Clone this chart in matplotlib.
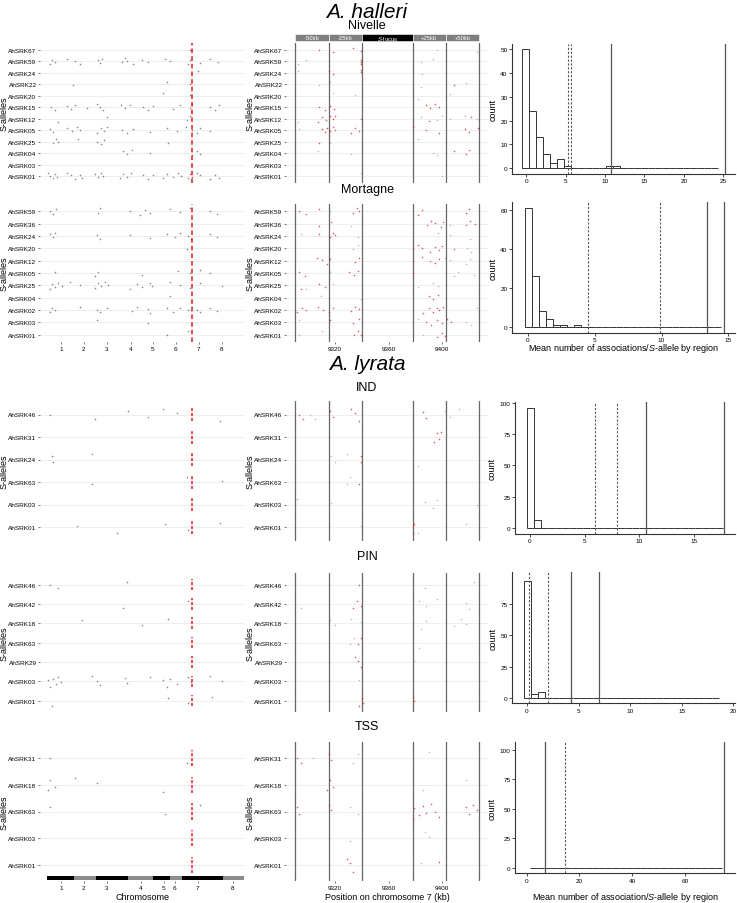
import matplotlib
matplotlib.use('Agg')
import matplotlib.pyplot as plt
from matplotlib.patches import Rectangle

plt.rcParams['font.family'] = ['Liberation Sans', 'DejaVu Sans']
plt.rcParams['mathtext.fontset'] = 'custom'
plt.rcParams['mathtext.it'] = 'Liberation Sans:italic'
plt.rcParams['mathtext.rm'] = 'Liberation Sans'

W, H = 737, 904

# genome: chromosome lengths (Mb)
chrom_len = [27, 22, 32, 25, 17, 12, 41, 21]
s_locus_pos = 145.7
chrom_ticks_top = [14, 37, 60, 84, 106, 129, 152, 175]
chrom_ticks_bottom = [14, 37, 60, 94, 117, 128, 151, 186]
chrom_labels = ['1', '2', '3', '4', '5', '6', '7', '8']

# chromosome 7 regions (kb)
region_borders = [9290, 9315, 9340, 9378, 9403, 9428]
region_names = ['-50kb', '-25kb', r'$\it{S}$-locus', '+25kb', '+50kb']
region_colors = ['#7f7f7f', '#7f7f7f', 'black', '#7f7f7f', '#7f7f7f']
kb_ticks = [9320, 9360, 9400]

# ---------------- Nivelle ----------------
niv_alleles = ['AhSRK67', 'AhSRK59', 'AhSRK24', 'AhSRK22', 'AhSRK20', 'AhSRK15',
               'AhSRK12', 'AhSRK05', 'AhSRK25', 'AhSRK04', 'AhSRK03', 'AhSRK01']
niv_genome = [
    [143],
    [3, 5, 8, 20, 28, 33, 51, 53, 55, 75, 78, 80, 86, 95, 101, 118, 123, 141, 143, 153, 163, 171],
    [151],
    [26, 120, 143],
    [116, 143],
    [4, 8, 20, 24, 28, 40, 50, 53, 56, 74, 78, 83, 96, 101, 106, 126, 133, 143, 145, 163, 168, 172],
    [11, 60, 140, 143],
    [3, 6, 20, 25, 30, 33, 50, 54, 57, 60, 75, 80, 86, 103, 120, 130, 139, 145, 150, 153, 163],
    [6, 9, 11, 31, 50, 54, 57, 121],
    [76, 80, 85, 103, 145, 150, 153],
    [],
    [1, 3, 6, 8, 10, 20, 24, 28, 33, 35, 48, 51, 54, 56, 73, 76, 80, 84, 96, 101, 106, 116,
     120, 126, 131, 134, 141, 143, 145, 150, 153, 163, 168, 172],
]
niv_red = [
    [9308, 9318, 9333, 9339],
    [9339, 9339, 9339],
    [9315, 9318, 9339, 9339],
    [9409],
    [],
    [9308, 9312, 9316, 9319, 9388, 9391, 9395, 9398],
    [9307, 9310, 9313, 9316, 9318, 9320, 9339, 9390, 9422],
    [9310, 9312, 9314, 9316, 9318, 9320, 9332, 9335, 9338, 9378, 9388, 9398, 9417, 9420, 9427],
    [9308],
    [9409, 9418, 9420],
    [],
    [],
]
niv_grey = [
    [9396, 9426],
    [9292, 9298, 9384, 9393],
    [9292, 9385],
    [9308, 9316, 9378, 9384, 9418],
    [9318, 9335, 9382, 9406],
    [],
    [9292, 9384, 9396, 9400, 9406, 9417, 9426],
    [9293],
    [9316, 9382],
    [9307, 9332, 9378, 9393, 9396],
    [],
    [9339, 9400],
]
niv_hist_start, niv_hist_width = -0.47, 0.888
niv_hist_counts = [50, 24, 13, 6, 2, 4, 1, 0, 0, 0, 0, 0, 1, 1, 0, 0, 0, 0, 0, 0, 0, 0, 0, 0, 0, 0, 0, 0]
niv_dotted = [5.37, 5.72]
niv_solid = [10.8, 25.2]

# ---------------- Mortagne ----------------
mor_alleles = ['AhSRK59', 'AhSRK36', 'AhSRK24', 'AhSRK20', 'AhSRK12', 'AhSRK05',
               'AhSRK25', 'AhSRK04', 'AhSRK02', 'AhSRK03', 'AhSRK01']
mor_genome = [
    [3, 6, 9, 51, 53, 83, 93, 98, 103, 123, 133, 143, 163, 170],
    [],
    [3, 6, 8, 50, 53, 83, 103, 120, 128, 133, 141, 144, 163, 170],
    [140],
    [],
    [8, 48, 51, 95, 131, 143, 153, 163],
    [3, 5, 8, 11, 15, 23, 33, 48, 51, 54, 58, 61, 83, 90, 95, 103, 105, 123, 133, 143, 153, 175],
    [123],
    [3, 5, 8, 33, 50, 53, 60, 85, 90, 101, 103, 120, 126, 133, 141, 145, 150, 153, 163, 170],
    [50, 101],
    [120, 141],
]
mor_red = [
    [9293, 9298, 9308, 9333, 9336, 9338, 9382, 9385, 9418, 9420],
    [9308, 9317, 9389, 9392, 9395, 9399, 9401, 9418, 9421, 9425],
    [9308, 9316, 9318, 9320],
    [9378, 9382, 9385, 9391, 9395, 9398, 9400, 9409],
    [9306, 9310, 9314, 9316, 9335, 9338, 9378, 9385, 9391, 9395, 9398],
    [9293, 9297, 9330, 9334, 9337, 9378],
    [9294, 9308, 9312],
    [9390, 9393, 9397],
    [9291, 9295, 9298, 9307, 9311, 9315, 9318, 9332, 9335, 9338, 9386, 9390, 9393, 9396, 9398, 9401],
    [9316, 9333, 9338, 9388, 9392, 9396, 9400, 9404, 9407],
    [9334, 9337, 9339, 9396, 9400, 9402],
]
mor_grey = [
    [9316],
    [9332, 9378, 9406],
    [9294, 9337, 9397, 9406, 9421],
    [9333, 9337, 9419, 9422],
    [9402, 9406, 9418, 9421],
    [9316, 9409, 9412, 9424],
    [9298, 9318, 9382, 9393, 9397],
    [9309, 9339],
    [9378, 9426],
    [9293, 9378, 9382, 9418, 9422],
    [9293, 9310, 9386],
]
mor_hist_start, mor_hist_width = -0.225, 0.524
mor_hist_counts = [61, 26, 8, 4, 1, 1, 0, 1, 0, 0, 0, 0, 0, 0, 0, 0, 0, 0, 0, 0, 0, 0, 0, 0, 0, 0, 0, 0]
mor_dotted = [4.5, 9.85]
mor_solid = [13.4, 14.7]

# ---------------- IND ----------------
ind_alleles = ['AhSRK46', 'AhSRK31', 'AhSRK24', 'AhSRK63', 'AhSRK03', 'AhSRK01']
ind_genome = [
    [3, 48, 81, 101, 116, 130, 173],
    [],
    [5, 6, 45],
    [45, 140, 175],
    [],
    [30, 70, 118, 141, 173],
]
ind_red = [
    [9293, 9296, 9316, 9318, 9332, 9335, 9338, 9386, 9388],
    [9394, 9396, 9398, 9399],
    [9339, 9339],
    [9338],
    [],
    [9378, 9378, 9379],
]
ind_grey = [
    [9301, 9305, 9402, 9406, 9413],
    [9378],
    [9317, 9320, 9329, 9378, 9382],
    [9329, 9331],
    [9291, 9317, 9378, 9387, 9393, 9396, 9426],
    [9339, 9382, 9418],
]
ind_hist_start, ind_hist_width = -0.30, 0.641
ind_hist_counts = [96, 6] + [0] * 26
ind_dotted = [5.98, 8.0]
ind_solid = [10.65, 17.8]

# ---------------- PIN ----------------
pin_alleles = ['AhSRK46', 'AhSRK42', 'AhSRK18', 'AhSRK63', 'AhSRK29', 'AhSRK03', 'AhSRK01']
pin_genome = [
    [3, 11, 80],
    [76, 141],
    [35, 95, 121],
    [],
    [],
    [1, 3, 6, 9, 11, 14, 45, 50, 53, 78, 80, 103, 116, 120, 123, 130, 141, 144, 163, 175],
    [5, 121, 141, 165],
]
pin_red = [
    [9338],
    [9333, 9336, 9339],
    [],
    [9337, 9339],
    [9335, 9337, 9339],
    [],
    [9338, 9340, 9341, 9378, 9379],
]
pin_grey = [
    [9378, 9387, 9424],
    [9294, 9383, 9388, 9396, 9418, 9420],
    [9316, 9320, 9332, 9339, 9384, 9388, 9409, 9414, 9418],
    [9331, 9334, 9378, 9383],
    [9378, 9379],
    [9338],
    [],
]
pin_hist_start, pin_hist_width = -0.33, 0.678
pin_hist_counts = [93, 3, 5] + [0] * 25
pin_dotted = [0.22, 2.03]
pin_solid = [4.3, 7.0]

# ---------------- TSS ----------------
tss_alleles = ['AhSRK31', 'AhSRK18', 'AhSRK63', 'AhSRK03', 'AhSRK01']
tss_genome = [
    [3, 140],
    [1, 3, 8, 28, 50, 116],
    [3, 118, 153],
    [],
    [],
]
tss_red = [
    [9291, 9294, 9315, 9317],
    [9314, 9316, 9318],
    [9291, 9293, 9315, 9317, 9378, 9379, 9383, 9386, 9388, 9392, 9395, 9398,
     9418, 9420, 9423, 9426],
    [],
    [9329, 9331, 9333, 9398],
]
tss_grey = [
    [9303, 9333, 9337, 9378, 9390],
    [9386, 9418],
    [9331, 9337],
    [9331, 9387, 9390],
    [9378, 9384],
]
tss_hist_start, tss_hist_width = 1.25, 2.6
tss_hist_counts = [0] * 28
tss_dotted = [6.9, 14.5]
tss_solid = [6.9, 74.8]

JIT = [0.0, -0.2, 0.16, -0.09, 0.24, 0.06, -0.27, 0.12, -0.14, 0.2, -0.04, 0.27]

TICK_FS = 4.6
LAB_FS = 6.5


def add_ax(fig, x0, y0, x1, y1):
    return fig.add_axes([x0 / W, 1 - y1 / H, (x1 - x0) / W, (y1 - y0) / H])


def style_panel(ax, alleles):
    n = len(alleles)
    ax.set_ylim(-0.6, n - 0.4)
    ax.set_yticks(range(n))
    ax.set_yticklabels(alleles[::-1])
    for y in range(n):
        ax.axhline(y, color='#ebebeb', lw=0.6, zorder=0)
    for s in ax.spines.values():
        s.set_visible(False)
    ax.tick_params(axis='y', length=1.5, width=0.5, color='#444444', pad=1, labelsize=TICK_FS)
    ax.tick_params(axis='x', length=1.5, width=0.5, color='#444444', pad=1.5, labelsize=TICK_FS)


def scatter_rows(ax, rows, color, alpha, jit_scale):
    n = len(rows)
    xs, ys = [], []
    for i, row in enumerate(rows):
        for k, x in enumerate(row):
            xs.append(x)
            ys.append(n - 1 - i + JIT[(k + i) % len(JIT)] * jit_scale)
    ax.scatter(xs, ys, s=1.3, color=color, alpha=alpha, linewidths=0, zorder=3)


def genome_panel(ax, alleles, genome, dashed_full, ticks):
    style_panel(ax, alleles)
    ax.set_xlim(-7, 197.5)
    scatter_rows(ax, genome, '#222222', 0.55, 1.0)
    n = len(alleles)
    if dashed_full:
        ax.axvline(s_locus_pos, color='#e41a1c', lw=1.1, ls=(0, (3, 2)), zorder=4)
    else:
        for y in range(n):
            ax.vlines(s_locus_pos, y - 0.3, y + 0.3, color='#e41a1c', lw=1.1,
                      linestyles=(0, (2, 1.2)), zorder=4)
    if ticks is None:
        ax.set_xticks([])
    else:
        ax.set_xticks(ticks)
        ax.set_xticklabels(chrom_labels)
    ax.set_ylabel('S-alleles', fontsize=LAB_FS)
    ax.yaxis.set_label_coords((9 - 40) / 204, 0.5)


def region_panel(ax, alleles, red, grey, show_ticks):
    style_panel(ax, alleles)
    ax.set_xlim(9283, 9435)
    for b in region_borders:
        ax.axvline(b, color='#666666', lw=0.9, zorder=2)
    scatter_rows(ax, grey, '#888888', 0.55, 1.0)
    scatter_rows(ax, red, '#e41a1c', 0.75, 1.0)
    if show_ticks:
        ax.set_xticks(kb_ticks)
    else:
        ax.set_xticks([])
    ax.set_ylabel('S-alleles', fontsize=LAB_FS)
    ax.yaxis.set_label_coords((255 - 286) / 202.5, 0.5)


def hist_panel(ax, start, width, counts, dotted, solid, xlim, ylim, xticks, yticks):
    lefts = [start + i * width for i in range(len(counts))]
    ax.bar(lefts, counts, width=width, align='edge', facecolor='white',
           edgecolor='#333333', linewidth=0.7, zorder=2)
    for v in dotted:
        ax.axvline(v, color='#555555', lw=0.8, ls=(0, (2, 1.5)), zorder=3)
    for v in solid:
        ax.axvline(v, color='#555555', lw=0.9, zorder=3)
    ax.set_xlim(*xlim)
    ax.set_ylim(*ylim)
    ax.set_xticks(xticks)
    ax.set_yticks(yticks)
    for s in ['top', 'right']:
        ax.spines[s].set_visible(False)
    for s in ['left', 'bottom']:
        ax.spines[s].set_color('#333333')
        ax.spines[s].set_linewidth(0.8)
    ax.tick_params(length=2, width=0.5, pad=1.2, labelsize=TICK_FS)
    ax.set_ylabel('count', fontsize=LAB_FS, labelpad=2)


def place_xlabel(ax, text, y_px, ax_bottom_px, ax_height_px):
    ax.set_xlabel(text, fontsize=LAB_FS)
    ax.xaxis.set_label_coords(0.5, -(y_px - ax_bottom_px) / ax_height_px)
    ax.xaxis.label.set_va('center')


fig = plt.figure(figsize=(W / 100, H / 100), dpi=100)

# panel rows: (top px, bottom px)
rows_px = [(44, 184), (205, 343), (402, 541.5), (574, 713.3), (743, 882)]
hist_px = [(512, 44.7, 175), (512, 203, 334), (515, 402.7, 535), (512, 573.3, 704.3), (515, 743.3, 874.3)]

pops = [
    (niv_alleles, niv_genome, niv_red, niv_grey, True, None, False,
     (niv_hist_start, niv_hist_width, niv_hist_counts, niv_dotted, niv_solid,
      (-1.8, 26.5), (-2.4, 52.2), [0, 5, 10, 15, 20, 25], [0, 10, 20, 30, 40, 50])),
    (mor_alleles, mor_genome, mor_red, mor_grey, True, chrom_ticks_top, True,
     (mor_hist_start, mor_hist_width, mor_hist_counts, mor_dotted, mor_solid,
      (-1.2, 15.5), (-3.07, 64), [0, 5, 10, 15], [0, 20, 40, 60])),
    (ind_alleles, ind_genome, ind_red, ind_grey, False, None, False,
     (ind_hist_start, ind_hist_width, ind_hist_counts, ind_dotted, ind_solid,
      (-1.37, 18.77), (-5.05, 101), [0, 5, 10, 15], [0, 25, 50, 75, 100])),
    (pin_alleles, pin_genome, pin_red, pin_grey, False, None, False,
     (pin_hist_start, pin_hist_width, pin_hist_counts, pin_dotted, pin_solid,
      (-1.45, 20.17), (-4.2, 100), [0, 5, 10, 15, 20], [0, 25, 50, 75])),
    (tss_alleles, tss_genome, tss_red, tss_grey, False, chrom_ticks_bottom, True,
     (tss_hist_start, tss_hist_width, tss_hist_counts, tss_dotted, tss_solid,
      (-4.4, 79), (-4.7, 106.3), [0, 20, 40, 60], [0, 25, 50, 75, 100])),
]

hist_axes = []
for k, (alleles, genome, red, grey, full, cticks, kbt, hist) in enumerate(pops):
    top, bot = rows_px[k]
    axl = add_ax(fig, 40, top, 244, bot)
    genome_panel(axl, alleles, genome, full, cticks)
    axm = add_ax(fig, 286, top, 488.5, bot)
    region_panel(axm, alleles, red, grey, kbt)
    hx, htop, hbot = hist_px[k]
    axh = add_ax(fig, hx, htop, 735, hbot)
    hist_panel(axh, *hist)
    hist_axes.append(axh)
    if k == 0:
        trans = axm.get_xaxis_transform()
        for j, name in enumerate(region_names):
            x0, x1 = region_borders[j], region_borders[j + 1]
            axm.add_patch(Rectangle((x0, 1.012), x1 - x0, 0.052, transform=trans,
                                    facecolor=region_colors[j], edgecolor='white',
                                    lw=0.4, clip_on=False))
            axm.text((x0 + x1) / 2, 1.038, name, transform=trans, ha='center',
                     va='center', color='white', fontsize=4.2)
    if k == 4:
        trans = axl.get_xaxis_transform()
        start = 0
        for j, L in enumerate(chrom_len):
            axl.add_patch(Rectangle((start, 0.007), L, 0.03, transform=trans,
                                    facecolor='black' if j % 2 == 0 else '#8c8c8c',
                                    edgecolor='none', clip_on=False, zorder=5))
            start += L
        place_xlabel(axl, 'Chromosome', 898, bot, bot - top)
        place_xlabel(axm, 'Position on chromosome 7 (kb)', 898, bot, bot - top)

place_xlabel(hist_axes[1], r'Mean number of associations/$\it{S}$-allele by region',
             348.5, 334, 131)
place_xlabel(hist_axes[4], r'Mean number of association/$\it{S}$-allele by region',
             898, 874.3, 131)

fig.text(0.498, 1 - 12 / H, 'A. halleri', ha='center', va='center', fontsize=15, style='italic')
fig.text(0.498, 1 - 26 / H, 'Nivelle', ha='center', va='center', fontsize=9)
fig.text(0.498, 1 - 190 / H, 'Mortagne', ha='center', va='center', fontsize=9)
fig.text(0.498, 1 - 364 / H, 'A. lyrata', ha='center', va='center', fontsize=15, style='italic')
fig.text(0.498, 1 - 388 / H, 'IND', ha='center', va='center', fontsize=9)
fig.text(0.498, 1 - 557 / H, 'PIN', ha='center', va='center', fontsize=9)
fig.text(0.498, 1 - 727 / H, 'TSS', ha='center', va='center', fontsize=9)

fig.savefig('out.png', dpi=100)
